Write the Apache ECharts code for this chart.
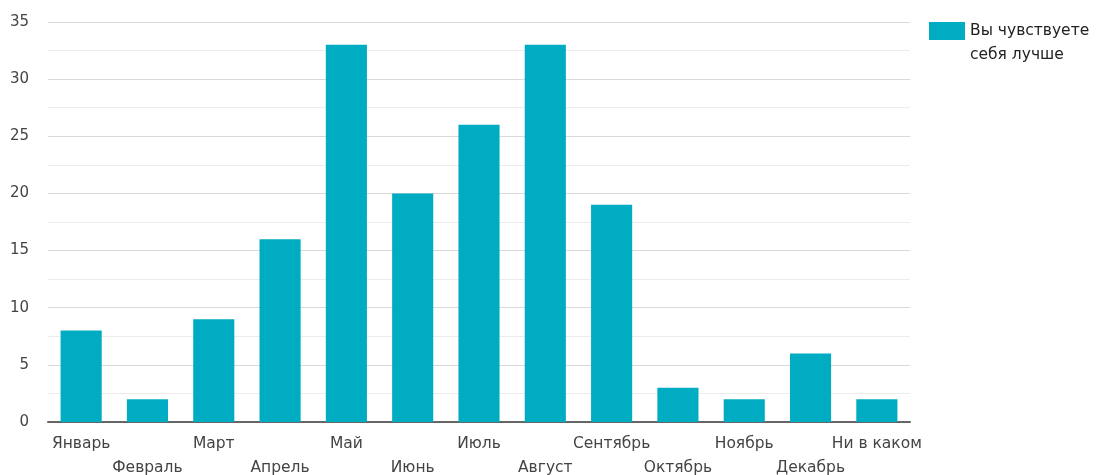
<!DOCTYPE html>
<html>
<head>
<meta charset="utf-8">
<script src="https://cdn.jsdelivr.net/npm/echarts@6/dist/echarts.min.js"></script>
<style>
  html, body { margin: 0; padding: 0; background: #fff; }
  #chart { width: 1096px; height: 475px; }
</style>
</head>
<body>
<div id="chart"></div>
<script>
// Months (plus "none") and how many respondents felt better in each
const categories = ['Январь', 'Февраль', 'Март', 'Апрель', 'Май', 'Июнь', 'Июль',
  'Август', 'Сентябрь', 'Октябрь', 'Ноябрь', 'Декабрь', 'Ни в каком'];
const feelBetter = [8, 2, 9, 16, 33, 20, 26, 33, 19, 3, 2, 6, 2];
const seriesName = 'Вы чувствуете себя лучше';
const legendLines = ['Вы чувствуете', 'себя лучше'];
const yTicks = [0, 5, 10, 15, 20, 25, 30, 35];

const FONT = '"DejaVu Sans", Arial, sans-serif';
const TEXT = '#444';

const chart = echarts.init(document.getElementById('chart'));
chart.setOption({
  animation: false,
  textStyle: { fontFamily: FONT },
  grid: { left: 48, right: 186, top: 22, bottom: 53, containLabel: false, outerBoundsMode: 'none' },
  legend: {
    left: 924, top: -10, orient: 'vertical',
    itemWidth: 36, itemHeight: 18,
    icon: 'rect',
    textStyle: { fontFamily: FONT, fontSize: 15.5, color: '#222', lineHeight: 24 },
    // leading blank line keeps the swatch level with the first text line
    formatter: () => '\n' + legendLines.join('\n')
  },
  xAxis: {
    type: 'category',
    data: categories,
    axisLine: { lineStyle: { color: '#666', width: 2 } },
    axisTick: { show: false },
    axisLabel: {
      interval: 0,
      color: TEXT, fontSize: 15.5, fontFamily: FONT,
      lineHeight: 24, margin: 10,
      formatter: (v, i) => (i % 2 === 1 ? '\n' + v : v)
    }
  },
  yAxis: {
    type: 'value',
    min: yTicks[0], max: yTicks[yTicks.length - 1], interval: 5,
    axisLine: { show: false },
    axisTick: { show: false },
    axisLabel: { color: TEXT, fontSize: 15, fontFamily: FONT, margin: 19 },
    splitLine: { lineStyle: { color: '#d9d9d9', width: 1 } },
    minorTick: { show: false, splitNumber: 2 },
    minorSplitLine: { show: true, lineStyle: { color: '#ececec', width: 1 } }
  },
  series: [{
    name: seriesName,
    type: 'bar',
    data: feelBetter,
    barWidth: '62%',
    itemStyle: { color: '#00acc1' }
  }]
});
</script>
</body>
</html>
